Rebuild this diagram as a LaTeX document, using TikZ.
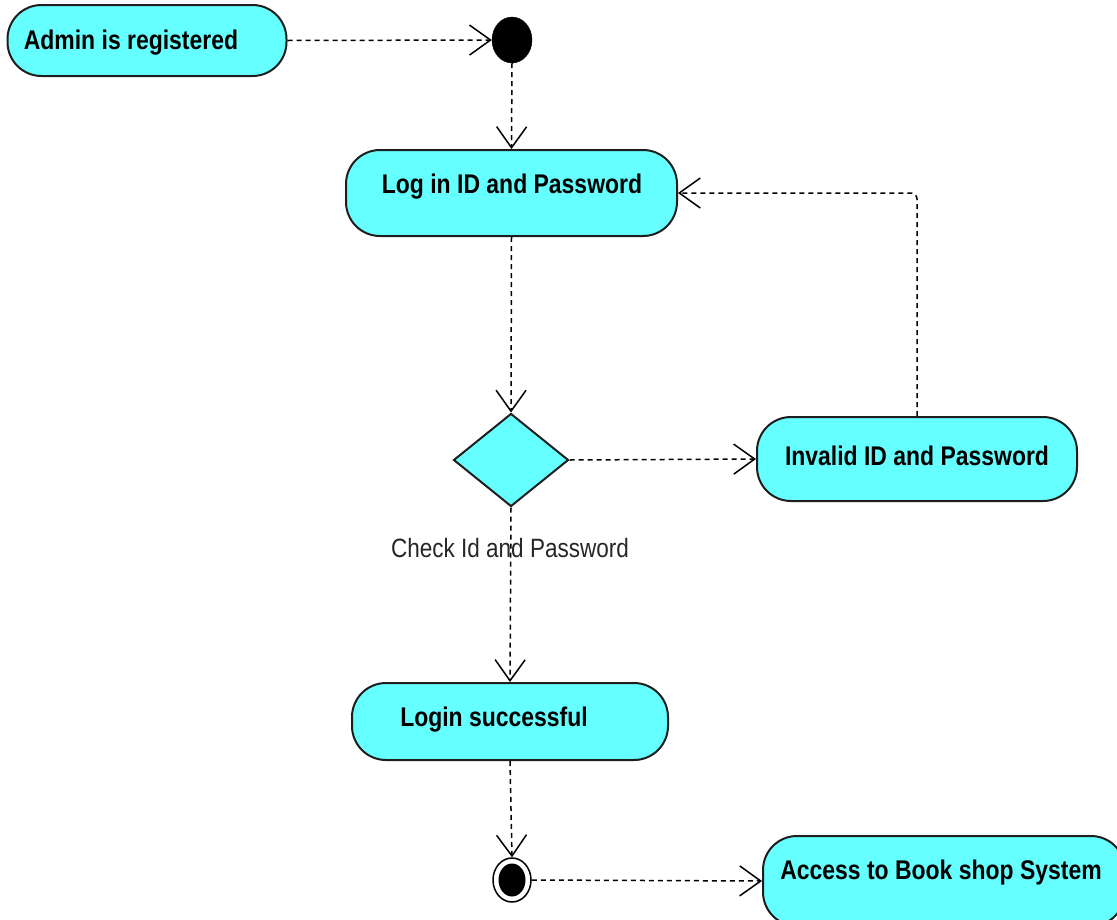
\documentclass[tikz,border=0pt]{standalone}
\usepackage{fontspec}
\setmainfont{Liberation Sans}[FakeStretch=0.85]
\usetikzlibrary{arrows.meta,shapes.geometric}
\definecolor{actfill}{RGB}{102,255,255}
\definecolor{actline}{RGB}{30,30,30}
\tikzset{
  act/.style={draw=actline,line width=2pt,fill=actfill,rounded corners=34pt,inner sep=0pt},
  acttext/.style={font=\bfseries\fontsize{27}{30}\selectfont,inner sep=0pt,text=black},
  flow/.style={draw=black,line width=1.5pt,dash pattern=on 5pt off 4pt,
    -{Straight Barb[length=21pt,width=30pt,line width=1.5pt]}},
  decision/.style={diamond,draw=actline,line width=2pt,fill=actfill,inner sep=0pt,
    minimum width=115pt,minimum height=93pt,aspect=1.24},
}
\begin{document}
\begin{tikzpicture}[x=1pt,y=-1pt]
\useasboundingbox (0,0) rectangle (1117,919);
\clip (0,0) rectangle (1117,919);
% activity boxes
\node[act,minimum width=279pt,minimum height=71pt] (admin) at (147,40.5) {};
\node[acttext] (admint) at (131,43) {Admin is registered};
\node[act,minimum width=331pt,minimum height=86pt] (login) at (511.5,193) {};
\node[acttext] (logint) at (512,187) {Log in ID and Password};
\node[decision] (check) at (511,460) {};
\node[font=\fontsize{26.5}{28}\selectfont,inner sep=0pt,text=black!85] (checkt) at (510,548) {Check Id and Password};
\node[act,minimum width=320pt,minimum height=84pt] (invalid) at (917,459) {};
\node[acttext] (invalidt) at (917,456) {Invalid ID and Password};
\node[act,minimum width=316pt,minimum height=77pt] (ok) at (510,721.5) {};
\node[acttext] (okt) at (494,720) {Login successful};
\node[act,minimum width=362pt,minimum height=90pt] (access) at (944,881) {};
\node[acttext] (accesst) at (941,873) {Access to Book shop System};
% initial and final nodes
\node[ellipse,fill=black,draw=black,minimum width=40pt,minimum height=46pt,inner sep=0pt] (start) at (512,40) {};
\node[ellipse,draw=black,line width=1.5pt,fill=white,minimum width=38pt,minimum height=44pt,inner sep=0pt] (final) at (512,880) {};
\node[ellipse,fill=black,minimum width=27pt,minimum height=33pt,inner sep=0pt] (finalin) at (512,880) {};
% flows
\draw[flow] (admin.east) -- (start.west);
\draw[flow] (start.south) -- (login.north);
\draw[flow] (login.south) -- (check.north);
\draw[flow] (check.east) -- (invalid.west);
\draw[flow,rounded corners=6pt] (invalid.north) |- (login.east);
\draw[flow] (check.south) -- (ok.north);
\draw[flow] (ok.south) -- (final.north);
\draw[flow] (final.east) -- (access.west);
\end{tikzpicture}
\end{document}
